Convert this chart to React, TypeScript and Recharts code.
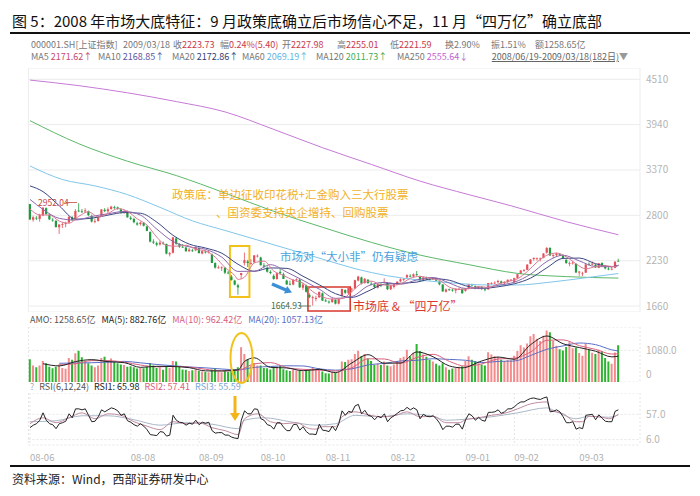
import React from 'react';
import {
  ComposedChart,
  Bar,
  Line,
  XAxis,
  YAxis,
  CartesianGrid,
  Cell,
  ReferenceArea,
} from 'recharts';

// 000001.SH daily, 2008/06/19 - 2009/03/18 (182 days): [open, high, low, close]
const candles: number[][] = [
  [2941, 2941, 2740, 2748], [2745, 2795, 2720, 2775], [2770, 2790, 2740, 2760], [2755, 2820, 2720, 2803],
  [2800, 2905, 2790, 2895], [2890, 2900, 2810, 2815], [2805, 2820, 2740, 2749], [2745, 2765, 2720, 2736],
  // Jul
  [2730, 2740, 2650, 2651], [2650, 2690, 2566, 2684], [2680, 2710, 2640, 2690], [2690, 2720, 2650, 2703],
  [2710, 2790, 2700, 2780], [2775, 2790, 2730, 2742], [2750, 2880, 2745, 2855], [2860, 2952, 2840, 2856],
  [2850, 2880, 2830, 2848], [2850, 2890, 2830, 2862], [2850, 2860, 2790, 2803], [2790, 2810, 2710, 2722],
  [2720, 2760, 2700, 2729], [2730, 2790, 2720, 2778], [2785, 2880, 2780, 2874], [2870, 2890, 2840, 2853],
  [2850, 2900, 2830, 2876], [2880, 2920, 2870, 2909], [2905, 2920, 2880, 2902], [2900, 2910, 2870, 2883],
  [2875, 2890, 2820, 2837], [2840, 2870, 2820, 2852], [2850, 2860, 2770, 2775],
  // Aug
  [2770, 2790, 2740, 2755], [2755, 2770, 2700, 2714], [2700, 2720, 2670, 2684], [2690, 2720, 2670, 2710],
  [2705, 2715, 2660, 2670], [2660, 2670, 2600, 2605], [2590, 2600, 2460, 2470], [2470, 2500, 2440, 2457],
  [2450, 2470, 2410, 2430], [2435, 2480, 2420, 2456], [2455, 2470, 2430, 2450], [2440, 2445, 2310, 2319],
  [2310, 2340, 2284, 2325], [2330, 2530, 2320, 2523], [2510, 2530, 2430, 2443], [2440, 2450, 2390, 2405],
  [2405, 2440, 2390, 2400], [2395, 2410, 2340, 2350], [2350, 2390, 2340, 2370], [2360, 2380, 2340, 2357],
  [2360, 2410, 2350, 2397],
  // Sep
  [2390, 2395, 2320, 2325], [2320, 2360, 2310, 2350], [2345, 2360, 2320, 2334], [2335, 2360, 2320, 2342],
  [2310, 2320, 2200, 2202], [2200, 2210, 2130, 2143], [2145, 2170, 2130, 2145], [2140, 2160, 2100, 2146],
  [2140, 2150, 2060, 2079], [2080, 2100, 2060, 2079], [2030, 2050, 1980, 1986], [1980, 1990, 1920, 1929],
  [1920, 1940, 1802, 1895], [2050, 2075, 2000, 2075], [2200, 2333, 2170, 2236], [2220, 2240, 2150, 2201],
  [2200, 2250, 2180, 2201], [2210, 2300, 2200, 2297], [2290, 2310, 2270, 2293],
  // Oct
  [2270, 2280, 2170, 2173], [2170, 2200, 2140, 2156], [2140, 2160, 2080, 2092], [2090, 2110, 2060, 2074],
  [2040, 2060, 1990, 2000], [2000, 2080, 1990, 2073], [2090, 2130, 2060, 2073], [2060, 2080, 2000, 2000],
  [1980, 1990, 1930, 1930], [1940, 1980, 1920, 1930], [1930, 1995, 1920, 1991], [1990, 2010, 1970, 1996],
  [1990, 2000, 1890, 1894], [1890, 1950, 1860, 1930], [1920, 1930, 1830, 1839], [1800, 1820, 1760, 1771],
  [1760, 1790, 1665, 1771], [1750, 1790, 1720, 1762], [1770, 1840, 1760, 1838], [1820, 1830, 1725, 1728],
  // Nov
  [1730, 1750, 1710, 1719], [1715, 1730, 1690, 1706], [1710, 1760, 1700, 1747], [1740, 1745, 1680, 1690],
  [1690, 1750, 1680, 1747], [1790, 1880, 1780, 1874], [1860, 1870, 1810, 1827], [1820, 1890, 1800, 1886],
  [1870, 1890, 1830, 1878], [1880, 1990, 1875, 1985], [1980, 2040, 1970, 2030], [2020, 2030, 1930, 1945],
  [1950, 2010, 1940, 2004], [1990, 2000, 1940, 1949], [1940, 1970, 1920, 1938], [1930, 1940, 1880, 1898],
  [1890, 1940, 1880, 1936], [1930, 1950, 1900, 1917], [1960, 2010, 1950, 1964], [1950, 1960, 1860, 1871],
  // Dec
  [1870, 1920, 1860, 1917], [1900, 1945, 1880, 1940], [1930, 1970, 1920, 1966], [1970, 2010, 1960, 1995],
  [1990, 2010, 1970, 2000], [2020, 2060, 2010, 2048], [2040, 2060, 2020, 2031], [2030, 2070, 2020, 2059],
  [2060, 2100, 2040, 2048], [2030, 2040, 1970, 1977], [1980, 2030, 1970, 2020], [2010, 2030, 1990, 2002],
  [2000, 2015, 1980, 1995], [1995, 2020, 1990, 2005], [2000, 2010, 1970, 1979], [1970, 1980, 1920, 1933],
  [1930, 1935, 1840, 1844], [1840, 1880, 1830, 1868], [1870, 1880, 1850, 1868], [1865, 1875, 1840, 1859],
  [1855, 1880, 1820, 1877], [1875, 1890, 1860, 1876], [1875, 1880, 1815, 1821],
  // Jan
  [1850, 1885, 1840, 1882], [1880, 1940, 1870, 1937], [1935, 1940, 1910, 1920], [1910, 1920, 1870, 1878],
  [1880, 1905, 1870, 1904], [1900, 1910, 1860, 1875], [1870, 1880, 1845, 1863], [1870, 1950, 1865, 1949],
  [1945, 1960, 1930, 1949], [1950, 1970, 1935, 1954], [1960, 1990, 1950, 1975], [1970, 1980, 1940, 1950],
  [1945, 1970, 1930, 1964], [1960, 1995, 1950, 1990], [1990, 2000, 1975, 1991],
  // Feb
  [1960, 2015, 1950, 2011], [2010, 2065, 2005, 2060], [2065, 2110, 2060, 2107], [2105, 2125, 2090, 2112],
  [2115, 2185, 2110, 2181], [2190, 2250, 2185, 2245], [2250, 2270, 2230, 2265], [2250, 2270, 2230, 2260],
  [2255, 2270, 2220, 2258], [2265, 2325, 2260, 2320], [2330, 2402, 2320, 2389], [2390, 2400, 2290, 2296],
  [2290, 2310, 2260, 2304], [2300, 2330, 2280, 2320], [2315, 2325, 2290, 2305], [2300, 2310, 2250, 2261],
  [2240, 2250, 2190, 2201], [2200, 2220, 2160, 2200], [2200, 2230, 2180, 2206], [2190, 2195, 2075, 2082],
  // Mar
  [2080, 2100, 2040, 2093], [2070, 2090, 2037, 2071], [2080, 2190, 2075, 2183], [2190, 2210, 2170, 2189],
  [2180, 2220, 2170, 2193], [2180, 2190, 2140, 2145], [2140, 2200, 2135, 2197], [2200, 2210, 2155, 2164],
  [2160, 2175, 2120, 2133], [2130, 2150, 2110, 2128], [2125, 2150, 2110, 2128], [2140, 2220, 2135, 2218],
  [2228, 2255, 2222, 2224],
];

// turnover (亿元)
const amount = [
  780, 560, 500, 560, 720, 640, 520, 470,
  520, 600, 480, 450, 820, 760, 980, 1070, 850, 700, 640, 560, 500, 560, 820, 860, 740, 800, 680, 640, 600, 580, 520,
  540, 500, 460, 480, 470, 520, 650, 560, 480, 500, 420, 520, 480, 720, 700, 520, 430, 420, 380, 400, 420,
  380, 360, 340, 330, 420, 450, 360, 330, 380, 340, 420, 440, 500, 1190, 960, 780, 560, 640, 560,
  560, 480, 470, 430, 480, 520, 560, 440, 400, 380, 420, 390, 380, 360, 380, 400, 480, 420, 480, 360,
  300, 290, 340, 320, 340, 700, 680, 760, 780, 960, 1070, 880, 960, 800, 720, 580, 620, 580, 700, 560,
  540, 600, 720, 820, 860, 1100, 880, 1000, 1300, 1060, 940, 860, 760, 700, 620, 560, 640, 500, 420, 460, 480, 520, 540,
  720, 880, 760, 720, 640, 600, 560, 1020, 940, 880, 860, 760, 720, 760, 740,
  900, 1060, 1260, 1180, 1320, 1560, 1640, 1480, 1400, 1580, 1760, 1700, 1400, 1240, 1120, 1080, 1200, 1360, 1150, 1180,
  990, 900, 1300, 1100, 1000, 960, 1100, 1055, 820, 700, 620, 1010, 1259,
];

// RSI(6)
const rsi6 = [
  30, 35, 38, 45, 60, 45, 38, 36,
  28, 38, 40, 43, 58, 50, 68, 68, 66, 68, 55, 42, 43, 52, 66, 62, 66, 70, 68, 64, 55, 58, 44,
  41, 36, 33, 38, 33, 26, 16, 15, 14, 22, 21, 13, 15, 55, 45, 41, 40, 35, 39, 37, 45,
  36, 41, 39, 41, 24, 19, 20, 20, 15, 15, 11, 9, 8, 45, 64, 58, 58, 68, 67,
  48, 45, 36, 34, 27, 40, 40, 31, 24, 24, 36, 37, 25, 32, 22, 17, 17, 16, 37, 25,
  24, 22, 33, 24, 38, 64, 55, 63, 61, 74, 77, 58, 65, 55, 53, 46, 53, 50, 58, 42,
  50, 54, 59, 64, 65, 71, 66, 70, 66, 48, 57, 53, 52, 54, 48, 39, 26, 33, 33, 31, 37, 37, 27,
  46, 58, 54, 45, 51, 45, 43, 61, 61, 62, 66, 59, 62, 68, 68,
  72, 78, 82, 82, 86, 89, 90, 88, 87, 90, 92, 62, 63, 66, 62, 52, 40, 40, 42, 27,
  30, 28, 55, 56, 57, 46, 56, 49, 43, 42, 42, 63, 66,
];

// moving averages read at sample days: [day index, value]
const ma5Pts = [[0, 2880], [3, 2805], [6, 2804], [9, 2727], [12, 2702], [15, 2787], [18, 2845], [21, 2779], [24, 2822], [27, 2885], [30, 2850], [33, 2756], [36, 2677], [39, 2526], [42, 2422], [45, 2412], [48, 2424], [51, 2375], [54, 2353], [57, 2274], [60, 2143], [63, 2044], [64, 1994], [66, 2024], [69, 2202], [72, 2224], [75, 2099], [78, 2044], [81, 1985], [84, 1948], [87, 1841], [90, 1774], [93, 1748], [96, 1753], [99, 1842], [102, 1945], [105, 1973], [108, 1928], [111, 1921], [114, 1938], [117, 2008], [120, 2033], [123, 2008], [126, 1983], [129, 1898], [132, 1870], [135, 1879], [138, 1904], [141, 1894], [144, 1938], [147, 1967], [150, 2003], [153, 2094], [156, 2213], [159, 2298], [162, 2326], [165, 2278], [168, 2190], [171, 2127], [174, 2156], [177, 2166], [180, 2154], [181, 2172]];
const ma10Pts = [[0, 3000], [4, 2875], [9, 2762], [14, 2741], [19, 2786], [24, 2820], [29, 2849], [34, 2802], [39, 2627], [44, 2471], [49, 2404], [54, 2373], [59, 2274], [64, 2095], [69, 2098], [74, 2180], [79, 2086], [84, 1982], [89, 1872], [94, 1757], [99, 1780], [104, 1913], [109, 1957], [114, 1934], [119, 1988], [124, 2019], [129, 1949], [134, 1881], [139, 1883], [144, 1920], [149, 1960], [154, 2061], [159, 2220], [164, 2298], [169, 2227], [174, 2156], [179, 2153], [181, 2169]];
const ma20Pts = [[0, 3170], [4, 3098], [9, 2920], [14, 2752], [19, 2764], [24, 2803], [29, 2835], [34, 2826], [39, 2715], [44, 2549], [49, 2438], [54, 2389], [59, 2324], [64, 2185], [69, 2097], [74, 2139], [79, 2133], [84, 2034], [89, 1927], [94, 1815], [99, 1769], [104, 1847], [109, 1935], [114, 1946], [119, 1961], [124, 2004], [129, 1984], [134, 1915], [139, 1882], [144, 1902], [149, 1940], [154, 2011], [159, 2141], [164, 2259], [169, 2263], [174, 2192], [179, 2155], [181, 2173]];
const ma60Pts = [[0, 3420], [10, 3250], [20, 3170], [30, 3060], [40, 2900], [50, 2730], [60, 2610], [70, 2490], [80, 2370], [90, 2250], [100, 2130], [110, 2040], [120, 1985], [130, 1950], [140, 1925], [150, 1925], [160, 1960], [170, 2010], [181, 2069]];
const ma120Pts = [[0, 3990], [15, 3700], [30, 3480], [45, 3300], [60, 3080], [75, 2850], [90, 2650], [105, 2460], [120, 2300], [135, 2180], [150, 2070], [165, 2030], [181, 2011]];
const ma250Pts = [[0, 4500], [15, 4430], [30, 4340], [45, 4230], [60, 4100], [75, 3880], [90, 3650], [105, 3440], [120, 3230], [135, 3060], [148, 2920], [165, 2720], [181, 2556]];

const amtMa5Pts = [[4, 624], [9, 550], [14, 698], [19, 764], [24, 696], [29, 660], [34, 500], [39, 536], [44, 528], [49, 490], [54, 380], [59, 378], [64, 416], [66, 702], [69, 826], [74, 500], [79, 480], [84, 386], [89, 432], [94, 322], [99, 652], [104, 934], [109, 640], [114, 648], [119, 1028], [124, 864], [129, 548], [133, 484], [139, 720], [144, 852], [149, 776], [154, 1276], [159, 1572], [164, 1308], [169, 1176], [174, 1052], [179, 859], [181, 883]];
const amtMa10Pts = [[9, 587], [14, 624], [19, 731], [24, 730], [29, 678], [34, 580], [39, 518], [44, 532], [49, 509], [54, 435], [59, 379], [64, 397], [69, 621], [74, 663], [79, 490], [84, 433], [89, 409], [94, 377], [99, 487], [104, 793], [109, 787], [114, 644], [119, 838], [124, 946], [129, 706], [134, 540], [139, 620], [144, 786], [149, 814], [154, 1026], [159, 1424], [164, 1440], [169, 1242], [174, 1114], [179, 955], [181, 962]];
const amtMa20Pts = [[9, 640], [19, 659], [24, 677], [29, 705], [34, 655], [39, 598], [44, 556], [49, 514], [54, 484], [59, 444], [64, 416], [69, 500], [74, 530], [79, 555], [84, 548], [89, 450], [94, 405], [99, 448], [104, 585], [109, 637], [114, 719], [119, 741], [124, 795], [129, 772], [134, 743], [139, 663], [144, 703], [149, 717], [154, 906], [159, 1119], [164, 1233], [169, 1333], [174, 1277], [179, 1099], [181, 1057]];

const rsi12Pts = [[0, 38], [4, 50], [8, 40], [12, 50], [16, 60], [20, 48], [24, 58], [28, 55], [32, 42], [36, 33], [40, 26], [44, 42], [48, 38], [52, 40], [56, 30], [60, 24], [64, 16], [66, 48], [70, 58], [74, 42], [78, 38], [82, 40], [86, 28], [88, 27], [90, 32], [94, 32], [96, 52], [100, 62], [104, 56], [108, 52], [112, 54], [116, 62], [120, 52], [124, 53], [128, 40], [132, 40], [134, 46], [138, 50], [142, 55], [146, 59], [150, 68], [154, 78], [159, 82], [160, 66], [164, 58], [168, 42], [170, 42], [172, 53], [176, 51], [178, 48], [181, 57]];
const rsi24Pts = [[0, 42], [8, 44], [16, 54], [24, 54], [32, 46], [40, 35], [48, 40], [56, 37], [64, 28], [66, 45], [72, 50], [80, 42], [88, 35], [94, 38], [100, 55], [108, 52], [116, 58], [124, 53], [128, 45], [134, 47], [142, 52], [150, 60], [159, 70], [162, 62], [168, 48], [172, 53], [178, 51], [181, 56]];

const monthStarts = [0, 31, 52, 71, 91, 111, 134, 149, 169];
const monthLabels = ['08-06', '08-08', '08-09', '08-10', '08-11', '08-12', '09-01', '09-02', '09-03'];
const priceTicks = [1660, 2230, 2800, 3370, 3940, 4510];
const amountTicks = [0, 1080];
const rsiTicks = [6, 57];

const rows: any[] = candles.map(([o, h, l, c], i) => ({
  i, o, h, l, c, hl: [l, h], amt: amount[i], rsi1: rsi6[i],
}));
const put = (key: string, pts: number[][]) => pts.forEach(([i, v]) => { rows[i][key] = v; });
put('ma5', ma5Pts); put('ma10', ma10Pts); put('ma20', ma20Pts);
put('ma60', ma60Pts); put('ma120', ma120Pts); put('ma250', ma250Pts);
put('vma5', amtMa5Pts); put('vma10', amtMa10Pts); put('vma20', amtMa20Pts);
put('rsi2', rsi12Pts); put('rsi3', rsi24Pts);

const UP = '#e5505a';
const DOWN = '#1f9a3e';
const FONT = '"Noto Sans CJK SC", "Noto Sans", sans-serif';
const MARGIN = { top: 0, right: 0, bottom: 0, left: 28.4 };

function Candle(props: any) {
  const { x, y, width, height, payload } = props;
  const { o, h, l, c } = payload;
  const color = c >= o ? UP : DOWN;
  const top0 = Math.min(y, y + height);
  const span = Math.abs(height);
  const k = span / (h - l || 1);
  const yOf = (v: number) => top0 + (h - v) * k;
  const cx = x + width / 2;
  const bTop = yOf(Math.max(o, c));
  const bBot = yOf(Math.min(o, c));
  return (
    <g>
      <line x1={cx} x2={cx} y1={top0} y2={top0 + span} stroke={color} strokeWidth={0.8} />
      <rect x={cx - 1.1} y={bTop} width={2.2} height={Math.max(0.8, bBot - bTop)} fill={color} />
    </g>
  );
}

const sideTick = (fmt: (v: number) => string, shift: (v: number) => number) => (p: any) => (
  <text x={p.x} y={p.y + shift(p.payload.value)} dy="0.35em" fill="#b5b5b5" fontSize={10} textAnchor="start">
    {fmt(p.payload.value)}
  </text>
);

const MonthTick = (p: any) => (
  <text x={p.x} y={p.y + 8} fill="#b0b0b0" fontSize={9.5} textAnchor="start">
    {monthLabels[monthStarts.indexOf(Number(p.payload.value))]}
  </text>
);

function hiddenX() {
  return (
    <XAxis dataKey="i" scale="band" ticks={monthStarts} interval={0} tick={false}
      tickLine={false} axisLine={false} height={0} padding={{ left: 0, right: 20 }} />
  );
}

const line = (key: string, color: string, w = 1) => (
  <Line key={key} dataKey={key} type="monotone" stroke={color} strokeWidth={w} dot={false}
    connectNulls isAnimationActive={false} />
);

const S = (text: string, color: string) => <span style={{ color }}>{text}</span>;

export default function App() {
  const gray = '#777';
  const red = '#c9384a';
  const row1: [number, React.ReactNode][] = [
    [31, S('000001.SH[上证指数]', gray)],
    [123, S('2009/03/18', gray)],
    [173, <>{S('收', gray)}{S('2223.73', red)}</>],
    [220, <>{S('幅', gray)}{S('0.24%(5.40)', red)}</>],
    [282, <>{S('开', gray)}{S('2227.98', red)}</>],
    [337, <>{S('高', gray)}{S('2255.01', red)}</>],
    [390, <>{S('低', gray)}{S('2221.59', red)}</>],
    [445, <>{S('换', gray)}{S('2.90%', gray)}</>],
    [491, <>{S('振', gray)}{S('1.51%', gray)}</>],
    [535, <>{S('额', gray)}{S('1258.65亿', gray)}</>],
  ];
  const row2: [number, React.ReactNode][] = [
    [31, <>{S('MA5 ', gray)}{S('2171.62↑', '#c8496a')}</>],
    [98, <>{S('MA10 ', gray)}{S('2168.85↑', '#5b57a0')}</>],
    [172, <>{S('MA20 ', gray)}{S('2172.86↑', '#2f3d78')}</>],
    [242, <>{S('MA60 ', gray)}{S('2069.19↑', '#5fb4e2')}</>],
    [316, <>{S('MA120 ', gray)}{S('2011.73↑', '#3fae55')}</>],
    [397, <>{S('MA250 ', gray)}{S('2555.64↓', '#c35fd0')}</>],
  ];

  return (
    <div style={{ position: 'relative', width: 700, height: 496, background: '#fff', overflow: 'hidden', fontFamily: FONT }}>
      <style>{'body{margin:0}'}</style>

      <div style={{ position: 'absolute', left: 12, top: 11, fontSize: 15, color: '#111', whiteSpace: 'nowrap', lineHeight: '20px' }}>
        图 5：2008 年市场大底特征：9 月政策底确立后市场信心不足，11 月“四万亿”确立底部
      </div>
      <div style={{ position: 'absolute', left: 10, top: 32, width: 680, height: 2, background: '#111' }} />

      {row1.map(([x, node], k) => (
        <div key={k} style={{ position: 'absolute', left: x, top: 39, fontSize: 9, lineHeight: '12px', whiteSpace: 'nowrap' }}>{node}</div>
      ))}
      {row2.map(([x, node], k) => (
        <div key={k} style={{ position: 'absolute', left: x, top: 51, fontSize: 9, lineHeight: '12px', whiteSpace: 'nowrap' }}>{node}</div>
      ))}
      <div style={{ position: 'absolute', right: 72, top: 51, fontSize: 9, lineHeight: '12px', whiteSpace: 'nowrap', color: '#666' }}>
        <span style={{ textDecoration: 'underline' }}>2008/06/19-2009/03/18(182日)</span>
        <span style={{ color: '#999' }}>▼</span>
      </div>

      {/* price panel */}
      <div style={{ position: 'absolute', left: 0, top: 68 }}>
        <ComposedChart width={700} height={244} data={rows} margin={MARGIN} barCategoryGap="15%">
          <CartesianGrid stroke="#ececec" />
          {hiddenX()}
          <YAxis orientation="right" width={60} domain={[1585, 4652]} allowDataOverflow ticks={priceTicks}
            interval={0} tickLine={false} axisLine={false} tickSize={0} tickMargin={6}
            tick={sideTick((v) => String(v), () => 0)} />
          <ReferenceArea x1={62} x2={67} y1={1774} y2={2414} stroke="#f2c21b" strokeWidth={2}
            fill="none" ifOverflow="visible" />
          <ReferenceArea x1={86} x2={98} y1={1598} y2={1899} stroke="#d9392e" strokeWidth={1.6}
            fill="none" ifOverflow="visible" />
          {line('ma250', '#c67ad6')}
          {line('ma120', '#5cb86a')}
          {line('ma60', '#80c6ea')}
          {line('ma20', '#3a4682')}
          {line('ma10', '#8b68ad')}
          {line('ma5', '#d77a95')}
          <Bar dataKey="hl" shape={(p: any) => <Candle {...p} />} isAnimationActive={false} />
        </ComposedChart>
      </div>

      <div style={{ position: 'absolute', left: 30, top: 314, fontSize: 9, lineHeight: '12px', whiteSpace: 'nowrap', display: 'flex', gap: 6 }}>
        {S('AMO: 1258.65亿', '#555')}
        {S('MA(5): 882.76亿', '#222')}
        {S('MA(10): 962.42亿', '#d9607e')}
        {S('MA(20): 1057.13亿', '#5a6ec4')}
      </div>

      {/* turnover panel */}
      <div style={{ position: 'absolute', left: 0, top: 327 }}>
        <ComposedChart width={700} height={55} data={rows} margin={MARGIN} barCategoryGap="12%">
          <CartesianGrid stroke="#e6e6e6" strokeDasharray="2 2" />
          {hiddenX()}
          <YAxis orientation="right" width={60} domain={[0, 1880]} allowDataOverflow ticks={amountTicks}
            interval={0} tickLine={false} axisLine={false} tickSize={0} tickMargin={6}
            tick={sideTick((v) => (v === 0 ? '0' : v.toFixed(1)), (v) => (v === 0 ? -8 : 0))} />
          <Bar dataKey="amt" isAnimationActive={false}>
            {rows.map((r) => (
              <Cell key={r.i} fill={r.c >= r.o ? '#f38a8c' : '#2db32f'} />
            ))}
          </Bar>
          {line('vma20', '#5a6ec4')}
          {line('vma10', '#d9607e')}
          {line('vma5', '#222')}
        </ComposedChart>
      </div>

      <div style={{ position: 'absolute', left: 30, top: 381, fontSize: 9, lineHeight: '12px', whiteSpace: 'nowrap', display: 'flex', gap: 5 }}>
        {S('?', '#aaa')}
        {S('RSI(6,12,24)', '#555')}
        {S('RSI1: 65.98', '#222')}
        {S('RSI2: 57.41', '#d9607e')}
        {S('RSI3: 55.59', '#7aa6d6')}
      </div>

      {/* RSI panel */}
      <div style={{ position: 'absolute', left: 0, top: 393 }}>
        <ComposedChart width={700} height={70} data={rows} margin={MARGIN}>
          <CartesianGrid stroke="#e6e6e6" strokeDasharray="2 2" />
          <XAxis dataKey="i" scale="band" ticks={monthStarts} interval={0} tick={MonthTick}
            tickLine={false} axisLine={false} height={18} padding={{ left: 0, right: 20 }} />
          <YAxis orientation="right" width={60} domain={[-5, 100]} allowDataOverflow ticks={rsiTicks}
            interval={0} tickLine={false} axisLine={false} tickSize={0} tickMargin={6}
            tick={sideTick((v) => v.toFixed(1), () => 0)} />
          {line('rsi3', '#a9b8c8')}
          {line('rsi2', '#c08aa0')}
          <Line dataKey="rsi1" type="linear" stroke="#222" strokeWidth={1} dot={false} isAnimationActive={false} />
        </ComposedChart>
      </div>

      {/* annotations */}
      <svg width={700} height={496} style={{ position: 'absolute', left: 0, top: 0, pointerEvents: 'none' }}>
        <text x={172} y={199} fontSize={11.5} fill="#f2b01e">政策底：单边征收印花税+汇金购入三大行股票</text>
        <text x={216} y={217} fontSize={11.5} fill="#f2b01e">、国资委支持央企增持、回购股票</text>
        <text x={280} y={261} fontSize={11.5} fill="#4aa2db">市场对“大小非”仍有疑虑</text>
        <line x1={272} y1={284} x2={286} y2={290} stroke="#3d8fd6" strokeWidth={3.5} />
        <polygon points="292,292.5 287.1,286.1 284,293.5" fill="#3d8fd6" />
        <text x={271} y={309} fontSize={8.5} fill="#3e6b4a">1664.93</text>
        <line x1={299} y1={306} x2={311} y2={306} stroke="#3e6b4a" strokeWidth={0.8} />
        <text x={353} y={311} fontSize={12} fill="#d9392e">市场底 &amp; “四万亿”</text>
        <text x={38} y={206} fontSize={8.5} fill="#c8463f">2952.04</text>
        <line x1={66} y1={202.5} x2={77} y2={202.5} stroke="#c8463f" strokeWidth={0.8} />
        <ellipse cx={241.5} cy={358} rx={11} ry={25} stroke="#f2c21b" strokeWidth={2} fill="none" />
        <line x1={235} y1={396} x2={235} y2={414} stroke="#f3b519" strokeWidth={3} />
        <polygon points="230,413 240,413 235,421" fill="#f3b519" />
      </svg>

      <div style={{ position: 'absolute', left: 10, top: 465, width: 680, height: 1.5, background: '#111' }} />
      <div style={{ position: 'absolute', left: 12, top: 471, fontSize: 12, lineHeight: '16px', color: '#222', whiteSpace: 'nowrap' }}>
        资料来源：Wind，西部证券研发中心
      </div>
    </div>
  );
}
